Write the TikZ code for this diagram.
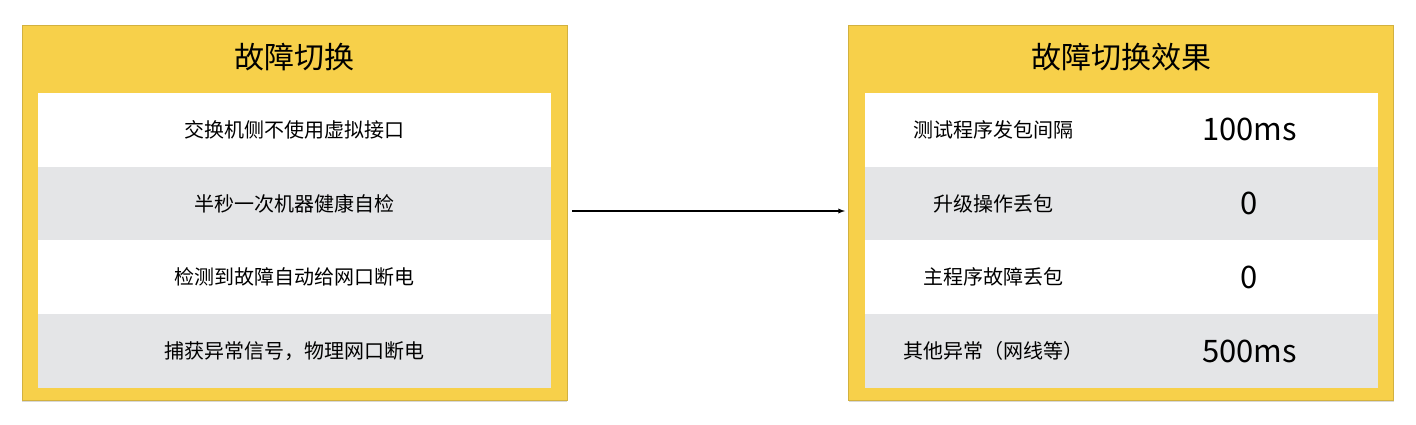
\documentclass[tikz,border=0pt]{standalone}
\usepackage{fontspec}
\newfontfamily\cjk{Noto Sans CJK SC}
\usetikzlibrary{shadows}
\definecolor{panelyellow}{HTML}{F7D04A}
\definecolor{rowgray}{HTML}{E4E5E7}
\tikzset{
  panel/.style={fill=panelyellow, draw=panelyellow!85!black, line width=0.4pt,
    minimum width=545pt, minimum height=375pt, inner sep=0pt,
    drop shadow={shadow xshift=0pt, shadow yshift=-2pt, opacity=0.3}},
  title/.style={font=\cjk\fontsize{30}{32}\selectfont},
  rowbox/.style={inner sep=0pt, minimum width=513pt, minimum height=73.7pt},
  rowtext/.style={font=\cjk\fontsize{20}{24}\selectfont},
  numtext/.style={font=\cjk\fontsize{31}{34}\selectfont}
}
\begin{document}
\begin{tikzpicture}[x=1pt,y=-1pt]
\useasboundingbox[fill=white] (0,0) rectangle (1416,424);
% left panel
\node[panel] (lpanel) at (294.5,212.5) {};
\node[title] (ltitle) at (294.5,57) {故障切换};
\foreach \i/\txt/\col in {1/交换机侧不使用虚拟接口/white,
  2/半秒一次机器健康自检/rowgray,
  3/检测到故障自动给网口断电/white,
  4/捕获异常信号，物理网口断电/rowgray}{
  \node[rowbox, fill=\col] (lrow\i) at (294.5,{56.2+73.7*\i}) {};
  \node[rowtext] at (lrow\i) {\txt};
}
% right panel
\node[panel] (rpanel) at (1121,212.5) {};
\node[title] (rtitle) at (1121,57) {故障切换效果};
\foreach \i/\txt/\val/\col in {1/测试程序发包间隔/100ms/white,
  2/升级操作丢包/0/rowgray,
  3/主程序故障丢包/0/white,
  4/其他异常（网线等）/500ms/rowgray}{
  \node[rowbox, fill=\col] (rrow\i) at (1121.5,{56.2+73.7*\i}) {};
  \node[rowtext] (rlabel\i) at ([xshift=-128pt]rrow\i.center) {\txt};
  \node[numtext] (rval\i) at ([xshift=128pt]rrow\i.center) {\val};
}
% arrow
\coordinate (astart) at (572,211);
\coordinate (aend) at (845,211);
\draw[line width=1.3pt, -latex] (astart) -- (aend);
\end{tikzpicture}
\end{document}
